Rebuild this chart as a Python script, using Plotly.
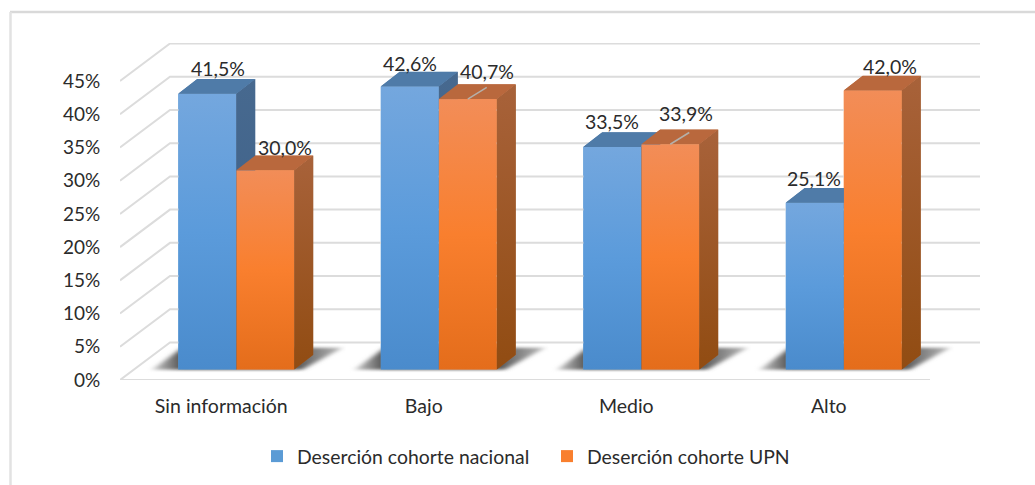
import base64
import plotly.graph_objects as go

categories = ["Sin información", "Bajo", "Medio", "Alto"]
nacional = [41.5, 42.6, 33.5, 25.1]
upn = [30.0, 40.7, 33.9, 42.0]
series_names = ["Deserción cohorte nacional", "Deserción cohorte UPN"]
y_ticks = [0, 5, 10, 15, 20, 25, 30, 35, 40, 45]
label_shift_nacional = [(11, 25), (0, 23), (0, 25), (-1, 24)]
label_shift_upn = [(20, 23), (19, 28), (16, 31), (17, 24)]
leader_upn = [False, True, True, False]

W, H = 1035, 485
PX_X = 202.5            # pixels per category
PX_Y = 299 / 45         # pixels per percent
L, R, T, B = 120, 980, 43, 380
FONT = "Lato, Carlito, Calibri, sans-serif"
dx = lambda px: px / PX_X
dy = lambda px: px / PX_Y

BAR_W = dx(58)
BASE = dy(10.5)
SHIFT_BLUE = dx(-14)
SHIFT_ORANGE = dx(44)
SIDE_X, SIDE_Y = dx(19), dy(14.7)
WALL_X, WALL_Y = dx(50), dy(37.5)


def svg_uri(body):
    s = f"<svg xmlns='http://www.w3.org/2000/svg' viewBox='0 0 100 100' preserveAspectRatio='none' width='100' height='100'>{body}</svg>"
    return "data:image/svg+xml;base64," + base64.b64encode(s.encode()).decode()


def grad(stops):
    st = "".join(f"<stop offset='{o}' stop-color='{c}'/>" for o, c in stops)
    return svg_uri(f"<defs><linearGradient id='g' x1='0' y1='0' x2='0' y2='1'>{st}</linearGradient></defs><rect width='100' height='100' fill='url(#g)'/>")


def depth_faces(v, side_top, side_bottom, top_c):
    """Side and top faces of one column, as an overlay with a shaded side."""
    total_x = BAR_W + SIDE_X
    total_y = v + SIDE_Y
    fx = BAR_W / total_x * 100
    fy = SIDE_Y / total_y * 100
    side = f"{fx},{fy} 100,0 100,{100 - fy} {fx},100"
    top = f"0,{fy} {fx},{fy} 100,0 {100 - fx},0"
    return svg_uri(
        f"<defs><linearGradient id='d' x1='0' y1='0' x2='0' y2='1'><stop offset='0' stop-color='{side_top}'/>"
        f"<stop offset='1' stop-color='{side_bottom}'/></linearGradient></defs>"
        f"<polygon points='{side}' fill='url(#d)'/><polygon points='{top}' fill='{top_c}'/>"
    )


BLUE_G = grad([(0, "#74a7de"), (0.5, "#5b9bdb"), (1, "#4a8bcc")])
ORANGE_G = grad([(0, "#f28d58"), (0.5, "#f97f2e"), (1, "#e46d1b")])
SHADOW = svg_uri(
    "<defs><filter id='b' x='-20%' y='-40%' width='140%' height='180%'><feGaussianBlur stdDeviation='1.5 5'/></filter>"
    "<linearGradient id='s' x1='0' y1='0' x2='1' y2='0'><stop offset='0' stop-color='#ccc'/><stop offset='0.15' stop-color='#555'/>"
    "<stop offset='0.75' stop-color='#555'/><stop offset='1' stop-color='#bbb'/></linearGradient></defs>"
    "<polygon points='3,90 18,12 98,12 78,90' fill='url(#s)' filter='url(#b)'/>"
)

fig = go.Figure()

# walls and gridlines
gx, gy = [], []
x0, x1 = -0.5, 3.5
for t in y_ticks:
    gx += [x0, x0 + WALL_X, x1 + WALL_X, None]
    gy += [t, t + WALL_Y, t + WALL_Y, None]
gx += [x0, x1]
gy += [0, 0]
fig.add_trace(go.Scatter(x=gx, y=gy, mode="lines", line=dict(color="#dcdcdc", width=2),
                         showlegend=False, hoverinfo="skip"))

images = []
annotations = []


def poly(xs, ys, color):
    fig.add_trace(go.Scatter(x=xs, y=ys, mode="lines", fill="toself", fillcolor=color,
                             line=dict(width=0, color=color), showlegend=False, hoverinfo="skip"))


# floor shadows
for i in range(len(categories)):
    images.append(dict(source=SHADOW, xref="x", yref="y", x=i + SHIFT_BLUE - BAR_W / 2 - dx(32), y=BASE + dy(25),
                       sizex=dx(200), sizey=dy(28), xanchor="left", yanchor="top", sizing="stretch", layer="below"))

for name, vals, shift, col, top_c, side_c, side_t, side_b, uri in [
    (series_names[0], nacional, SHIFT_BLUE, "#5b9bd5", "#4f7ba8", "#456a92", "#47698f", "#3b5f87", BLUE_G),
    (series_names[1], upn, SHIFT_ORANGE, "#f97f2e", "#b9683d", "#9d5828", "#a8623a", "#914c12", ORANGE_G),
]:
    xs = [i + shift for i in range(len(vals))]
    fig.add_trace(go.Bar(x=xs, y=vals, base=[BASE] * len(vals), width=BAR_W, name=name,
                         marker=dict(color=col, line=dict(width=0)), hoverinfo="skip"))
    for xc, v in zip(xs, vals):
        l, r, t = xc - BAR_W / 2, xc + BAR_W / 2, v + BASE
        poly([r, r + SIDE_X, r + SIDE_X, r, r], [BASE, BASE + SIDE_Y, t + SIDE_Y, t, BASE], side_c)
        poly([l, r, r + SIDE_X, l + SIDE_X, l], [t, t, t + SIDE_Y, t + SIDE_Y, t], top_c)
        images.append(dict(source=depth_faces(v, side_t, side_b, top_c), xref="x", yref="y", x=l, y=t + SIDE_Y,
                           sizex=BAR_W + SIDE_X, sizey=v + SIDE_Y, xanchor="left", yanchor="top",
                           sizing="stretch", layer="above"))
        images.append(dict(source=uri, xref="x", yref="y", x=l, y=t, sizex=BAR_W, sizey=v,
                           xanchor="left", yanchor="top", sizing="stretch", layer="above"))

# leader lines (drawn as annotations' partners, above the face overlays)
shapes = []
for i, (v, on) in enumerate(zip(upn, leader_upn)):
    if on:
        xc = i + SHIFT_ORANGE
        shapes.append(dict(type="line", xref="x", yref="y", layer="above", x0=xc, x1=xc + SIDE_X,
                           y0=v + BASE, y1=v + BASE + SIDE_Y * 0.8, line=dict(color="#b5b0aa", width=1.5)))

for vals, shift, shifts in [(nacional, SHIFT_BLUE, label_shift_nacional), (upn, SHIFT_ORANGE, label_shift_upn)]:
    for i, v in enumerate(vals):
        annotations.append(dict(x=i + shift, y=v + BASE, text=f"{v:.1f}%".replace(".", ","), showarrow=False,
                                xshift=shifts[i][0], yshift=shifts[i][1],
                                font=dict(family=FONT, size=19.5, color="#2b2b2b")))

px = lambda p: (p - L) / (R - L)
py = lambda p: (B - p) / (B - T)
frame = [
    dict(type="line", xref="paper", yref="paper", layer="below", x0=px(10), x1=px(1035), y0=py(12), y1=py(12),
         line=dict(color="#d9d9d9", width=2.5)),
    dict(type="line", xref="paper", yref="paper", layer="below", x0=px(10.5), x1=px(10.5), y0=py(12), y1=py(485),
         line=dict(color="#e2e2e2", width=2.5)),
]

fig.update_layout(
    width=W, height=H, autosize=False,
    margin=dict(l=L, r=W - R, t=T, b=H - B, autoexpand=False),
    paper_bgcolor="white", plot_bgcolor="rgba(0,0,0,0)",
    barmode="overlay", images=images, annotations=annotations, shapes=frame + shapes,
    font=dict(family=FONT, size=19.5, color="#2b2b2b"),
    showlegend=True,
    legend=dict(orientation="h", x=px(257), xanchor="left", y=py(437), yanchor="top",
                font=dict(family=FONT, size=19.4, color="#2b2b2b"), bgcolor="rgba(0,0,0,0)",
                entrywidth=245, entrywidthmode="pixels",
                itemclick=False, itemdoubleclick=False),
    xaxis=dict(range=[x0, x0 + (R - L) / PX_X], tickmode="array", tickvals=list(range(len(categories))),
               ticktext=categories, showgrid=False, zeroline=False, showline=False, automargin=False,
               ticks="outside", ticklen=9, tickcolor="rgba(0,0,0,0)"),
    yaxis=dict(range=[0, (B - T) / PX_Y], tickmode="array", tickvals=y_ticks,
               ticktext=[f"{t}%" for t in y_ticks], showgrid=False, zeroline=False, showline=False, automargin=False,
               ticks="outside", ticklen=15, tickcolor="rgba(0,0,0,0)", tickfont=dict(size=19)),
)

fig.write_html("out.html", config=dict(displayModeBar=False, responsive=False),
               post_script="document.body.style.margin='0';document.documentElement.style.overflow='hidden';")
